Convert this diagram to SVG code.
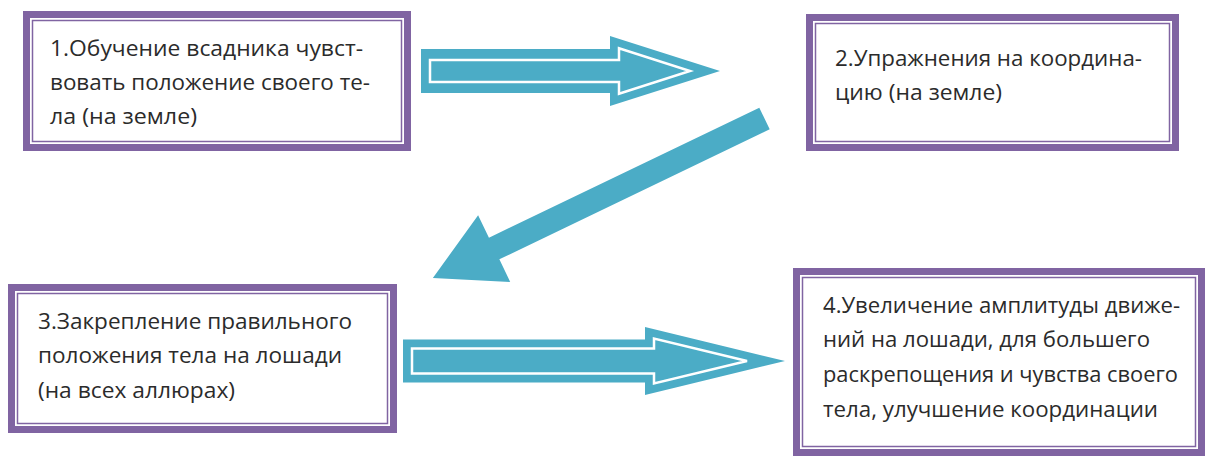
<svg xmlns="http://www.w3.org/2000/svg" width="1209" height="457" viewBox="0 0 1209 457">
  <style>
    .band { fill: #ffffff; stroke: #8064A2; stroke-width: 7; }
    .thin { fill: none; stroke: #8064A2; stroke-width: 1.5; }
    .txt { font-family: "Open Sans", "Noto Sans", "Liberation Sans", sans-serif; font-size: 22px; fill: #2b2b2b; }
    .arrow { fill: #4BACC6; }
    .inset { fill: none; stroke: #ffffff; stroke-width: 2.5; stroke-linejoin: miter; }
  </style>
  <rect x="0" y="0" width="1209" height="457" fill="#ffffff"/>

  <g id="connectors">
    <g id="arrow-1-2">
      <polygon class="arrow" points="421,49 610,49 610,36 720,71 610,106 610,93 421,93"/>
      <polygon class="inset" points="430,60 619,60 619,48.3 690,71 619,93.7 619,82 430,82"/>
    </g>
    <g id="arrow-2-3">
      <polygon class="arrow" transform="translate(764.5,118.5) rotate(154.31)" points="0,-12 300,-12 300,-37 368,0 300,37 300,12 0,12"/>
    </g>
    <g id="arrow-3-4">
      <polygon class="arrow" points="403,339.5 645,339.5 645,327 785,361 645,395 645,382.5 403,382.5"/>
      <polygon class="inset" points="412,348.5 654,348.5 654,338.5 747,361 654,383.5 654,373.5 412,373.5"/>
    </g>
  </g>

  <g id="node-1">
    <rect class="band" x="26.5" y="14.5" width="381" height="133"/>
    <rect class="thin" x="32.5" y="20.5" width="369" height="121"/>
    <text class="txt" x="50" y="56" textLength="313" lengthAdjust="spacingAndGlyphs">1.Обучение всадника чувст-</text>
    <text class="txt" x="50" y="90" textLength="320" lengthAdjust="spacingAndGlyphs">вовать положение своего те-</text>
    <text class="txt" x="50" y="124" textLength="147" lengthAdjust="spacingAndGlyphs">ла (на земле)</text>
  </g>

  <g id="node-2">
    <rect class="band" x="809.5" y="17.5" width="366" height="130"/>
    <rect class="thin" x="815.5" y="23.5" width="354" height="118"/>
    <text class="txt" x="835" y="66" textLength="307" lengthAdjust="spacingAndGlyphs">2.Упражнения на координа-</text>
    <text class="txt" x="835" y="100" textLength="167" lengthAdjust="spacingAndGlyphs">цию (на земле)</text>
  </g>

  <g id="node-3">
    <rect class="band" x="11.5" y="287.5" width="382" height="142"/>
    <rect class="thin" x="17.5" y="293.5" width="370" height="130"/>
    <text class="txt" x="38" y="329" textLength="314" lengthAdjust="spacingAndGlyphs">3.Закрепление правильного</text>
    <text class="txt" x="38" y="363" textLength="304" lengthAdjust="spacingAndGlyphs">положения тела на лошади</text>
    <text class="txt" x="38" y="398" textLength="197" lengthAdjust="spacingAndGlyphs">(на всех аллюрах)</text>
  </g>

  <g id="node-4">
    <rect class="band" x="796.5" y="271.5" width="405" height="181"/>
    <rect class="thin" x="802.5" y="277.5" width="393" height="169"/>
    <text class="txt" x="823" y="313" textLength="357" lengthAdjust="spacingAndGlyphs">4.Увеличение амплитуды движе-</text>
    <text class="txt" x="823" y="347" textLength="327" lengthAdjust="spacingAndGlyphs">ний на лошади, для большего</text>
    <text class="txt" x="823" y="382" textLength="355" lengthAdjust="spacingAndGlyphs">раскрепощения и чувства своего</text>
    <text class="txt" x="823" y="417" textLength="335" lengthAdjust="spacingAndGlyphs">тела, улучшение координации</text>
  </g>
</svg>
